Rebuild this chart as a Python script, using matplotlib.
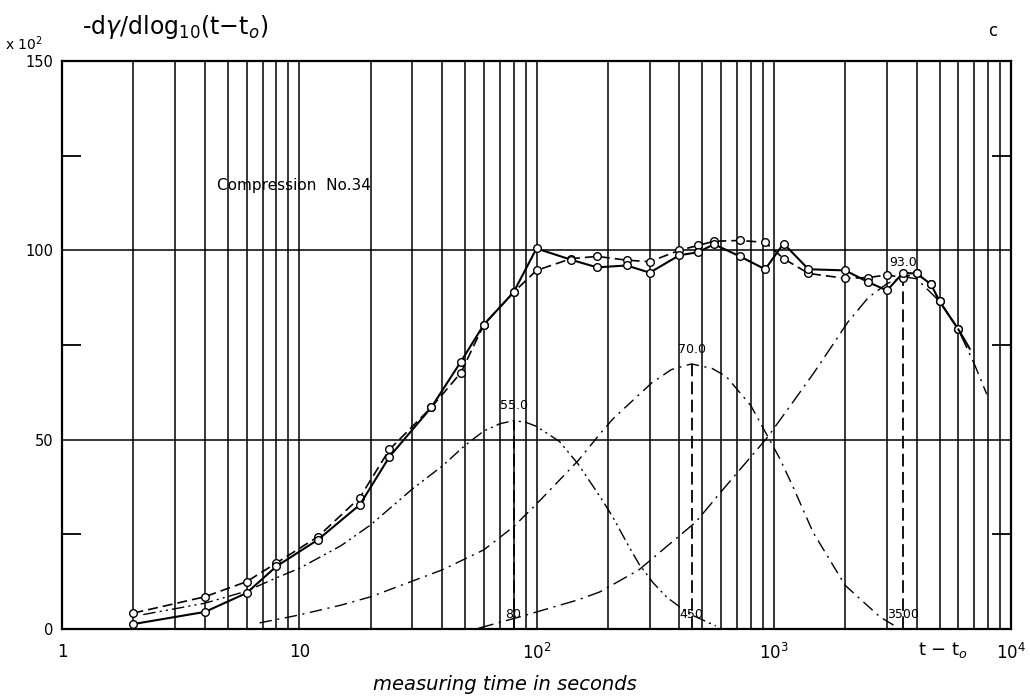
import matplotlib
matplotlib.use("Agg")
import matplotlib.pyplot as plt
from matplotlib.ticker import LogLocator, NullFormatter

# measured points, two runs (solid and dashed curve)
t_meas = [2, 4, 6, 8, 12, 18, 24, 36, 48, 60, 80, 100, 140, 180, 240, 300, 400,
          480, 560, 720, 920, 1100, 1400, 2000, 2500, 3000, 3500, 4000, 4600, 5000, 6000]
y_solid = [1.3, 4.5, 9.5, 16.5, 23.6, 32.8, 45.5, 58.5, 70.6, 80.4, 88.9, 100.5, 97.5,
           95.5, 96.0, 94.1, 98.7, 99.5, 101.6, 98.4, 95.0, 101.8, 95.0, 94.7, 91.6,
           89.4, 94.0, 93.9, 91.0, 86.5, 79.1]
y_dashed = [4.2, 8.5, 12.5, 17.4, 24.4, 34.7, 47.4, 58.5, 67.7, 80.4, 88.9, 94.7, 97.8,
            98.4, 97.4, 97.0, 100.0, 101.3, 102.4, 102.6, 102.1, 97.8, 93.9, 92.6, 92.8,
            93.5, 92.8, 93.9, 91.0, 86.5, 79.1]
t_solid_end = [6000, 6700]
y_solid_end = [79.1, 74.0]

# the three component curves
t_c1 = [2.2, 4, 6, 8, 10, 15, 20, 30, 40, 50, 60, 70, 80, 90, 100, 125, 150, 185,
        210, 240, 270, 310, 355, 440, 570]
y_c1 = [3.8, 6.8, 10.0, 13.5, 16.0, 22.0, 27.5, 37.0, 43.0, 48.5, 52.3, 54.2, 55.0,
        54.6, 53.5, 49.5, 43.5, 35.0, 29.5, 22.8, 17.2, 12.2, 8.3, 4.0, 0.8]
t_c2 = [6.8, 10, 15, 20, 40, 60, 80, 100, 150, 185, 210, 306, 370, 450, 550, 630,
        800, 940, 1060, 1200, 1465, 2000, 2800, 3300]
y_c2 = [1.6, 3.7, 6.3, 8.5, 15.6, 20.9, 27.0, 33.0, 44.5, 51.5, 55.5, 65.0, 68.5,
        70.0, 68.8, 66.7, 59.0, 51.0, 45.0, 37.8, 25.5, 11.5, 3.2, 0.5]
t_c3 = [57, 85, 150, 185, 270, 470, 610, 940, 1200, 1470, 1770, 2050, 2500, 3000,
        3500, 4000, 5000, 6000, 7000, 7900]
y_c3 = [0.2, 3.2, 7.7, 9.8, 15.6, 28.3, 36.8, 50.6, 59.8, 67.5, 75.0, 81.0, 87.5,
        91.2, 93.0, 92.5, 86.5, 79.0, 70.0, 62.0]

peak_t = [80, 450, 3500]
peak_y = [55.0, 70.0, 93.0]
peak_txt = ["55.0", "70.0", "93.0"]
foot_txt = ["80", "450", "3500"]

fig = plt.figure(figsize=(10.3, 6.98), dpi=100)
ax = fig.add_axes([0.0602, 0.0989, 0.9214, 0.8137])
ax.set_xscale("log")
ax.set_xlim(1, 1e4)
ax.set_ylim(0, 150)

# grid
ax.xaxis.set_major_locator(LogLocator(base=10, numticks=10))
ax.xaxis.set_minor_locator(LogLocator(base=10, subs=range(2, 10), numticks=50))
ax.xaxis.set_minor_formatter(NullFormatter())
ax.grid(which="both", axis="x", color="black", lw=1.1)
ax.set_yticks([0, 50, 100, 150])
ax.set_yticks([25, 75, 125], minor=True)
ax.grid(which="major", axis="y", color="black", lw=1.1)
ax.set_xticks([1, 10, 100, 1000, 10000])
ax.set_xticklabels(["1", "10", "$10^2$", "$10^3$", "$10^4$"], fontsize=12)
ax.set_yticklabels(["0", "50", "100", "150"], fontsize=10.5)
ax.tick_params(which="major", length=0, pad=6)
ax.tick_params(axis="x", which="major", pad=10)
ax.tick_params(axis="x", which="minor", length=0)
ax.tick_params(axis="y", which="minor", length=14, width=1.3, direction="in",
               left=True, right=True)
for sp in ax.spines.values():
    sp.set_linewidth(1.6)

# components
ax.plot(t_c1, y_c1, color="black", lw=1.0, ls=(0, (9, 3, 1.5, 3, 1.5, 3)))
ax.plot(t_c2, y_c2, color="black", lw=1.0, ls=(0, (9, 4, 1.5, 4)))
ax.plot(t_c3, y_c3, color="black", lw=1.0, ls=(0, (11, 4, 1.5, 4)))

# measured curves
ax.plot(t_meas, y_dashed, color="black", lw=1.2, ls=(0, (6, 3)),
        marker="o", ms=5.5, mfc="white", mec="black", mew=1.0, zorder=4)
ax.plot(t_meas, y_solid, color="black", lw=1.5,
        marker="o", ms=5.5, mfc="white", mec="black", mew=1.0, zorder=5)
ax.plot(t_solid_end, y_solid_end, color="black", lw=1.5, zorder=5)

# peak markers
for t, y, lab, foot in zip(peak_t, peak_y, peak_txt, foot_txt):
    ax.plot([t, t], [0, y], color="black", lw=1.3, ls=(0, (7, 3)))
    ax.text(t, y + 2.2, lab, ha="center", va="bottom", fontsize=9)
    ax.text(t, 2.2, foot, ha="center", va="bottom", fontsize=9)

ax.text(4.5, 117, "Compression  No.34", fontsize=11, va="center")

fig.text(0.08, 0.962, r"-d$\gamma$/dlog$_{10}$(t$-$t$_o$)", fontsize=17, va="center")
fig.text(0.005, 0.938, "x 10$^2$", fontsize=10, va="center")
fig.text(0.959, 0.955, "c", fontsize=12, va="center")
fig.text(0.891, 0.069, "t $-$ t$_o$", fontsize=13, va="center")
fig.text(0.49, 0.02, "measuring time in seconds", fontsize=14, style="italic",
         ha="center", va="center")

fig.savefig("out.png", dpi=100)
